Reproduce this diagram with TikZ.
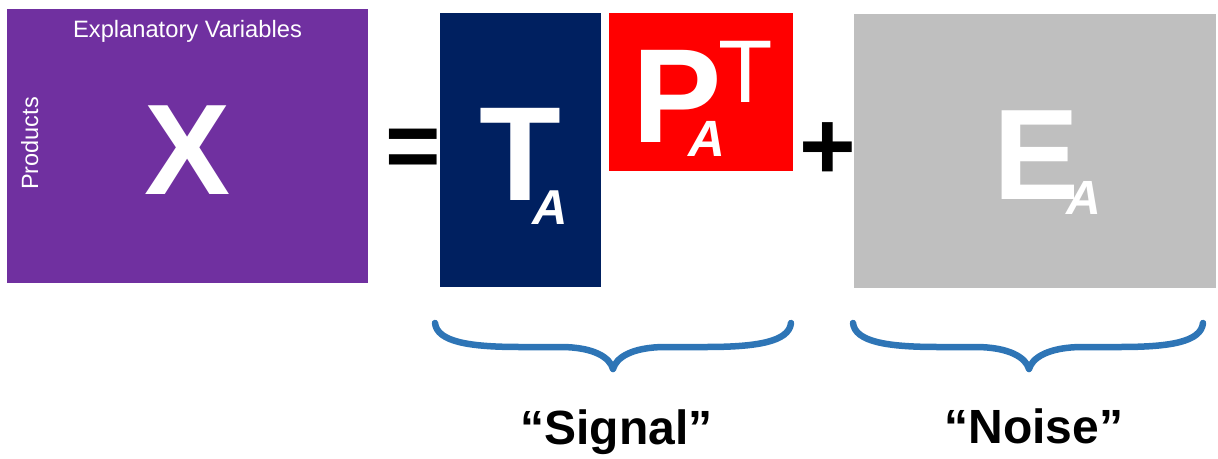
\documentclass[tikz,border=0pt]{standalone}
\usepackage{fontspec}
\setmainfont{Liberation Sans}
\definecolor{xpurple}{HTML}{7030A0}
\definecolor{tnavy}{HTML}{002060}
\definecolor{pred}{HTML}{FF0000}
\definecolor{egray}{HTML}{BFBFBF}
\definecolor{braceblue}{RGB}{46,117,182}
\begin{document}
\begin{tikzpicture}[x=1pt,y=-1pt,
  blockbox/.style={fill=#1,draw=none},
  txt/.style={inner sep=0pt,outer sep=0pt,anchor=base},
  white txt/.style={txt,text=white},
  bracepath/.style={draw=braceblue,line width=6.5pt,line cap=round,line join=round}]
\useasboundingbox (0,0) rectangle (1218,458);
% blocks
\fill[xpurple] (7,9) rectangle (368,283);
\fill[tnavy] (440,13) rectangle (601,287);
\fill[pred] (609,13) rectangle (793,171);
\fill[egray] (854,14) rectangle (1216,288);
% X block texts
\node[white txt,font=\fontsize{23.7}{27}\selectfont] (ev) at (187.5,37.7) {Explanatory Variables};
\node[white txt,font=\fontsize{23.5}{27}\selectfont,rotate=90] (prod) at (38,143.5) {Products};
\node[white txt,font=\fontsize{129}{140}\selectfont\bfseries] (X) at (187.5,194) {X};
% operators
\node[txt,font=\fontsize{95}{100}\selectfont\bfseries,anchor=center] (eq) at (413.5,153.5) {=};
\node[txt,font=\fontsize{97}{100}\selectfont\bfseries,anchor=center] (plus) at (828,151) {+};
% T_A
\node[white txt,font=\fontsize{134}{140}\selectfont\bfseries] (T) at (520.5,200) {T};
\node[white txt,font=\fontsize{49}{50}\selectfont\bfseries\itshape] (TA) at (550.5,224) {A};
% P_A^T
\node[white txt,font=\fontsize{134}{140}\selectfont\bfseries] (P) at (677,142) {P};
\node[white txt,font=\fontsize{89}{90}\selectfont] (PT) at (745.5,102) {T};
\node[white txt,font=\fontsize{51}{52}\selectfont\bfseries\itshape] (PA) at (706.5,156) {A};
% E_A
\node[white txt,font=\fontsize{129}{140}\selectfont\bfseries] (E) at (1037,199) {E};
\node[white txt,font=\fontsize{48}{50}\selectfont\bfseries\itshape] (EA) at (1083.5,214) {A};
% braces
\path[bracepath] (435,323) .. controls (437,342) and (470,347) .. (520,347) -- (560,347)
  .. controls (595,347) and (610,358) .. (613,369)
  .. controls (616,358) and (631,347) .. (666,347) -- (706,347)
  .. controls (756,347) and (789,342) .. (791,323);
\path[bracepath] (853,323) .. controls (855,342) and (888,347) .. (938,347) -- (975,347)
  .. controls (1010,347) and (1026,358) .. (1029,369)
  .. controls (1032,358) and (1048,347) .. (1083,347) -- (1120,347)
  .. controls (1170,347) and (1201,342) .. (1203,323);
% labels
\node[txt,font=\fontsize{48}{50}\selectfont\bfseries] (signal) at (616.5,444) {“Signal”};
\node[txt,font=\fontsize{48}{50}\selectfont\bfseries] (noise) at (1034,443) {“Noise”};
\end{tikzpicture}
\end{document}
